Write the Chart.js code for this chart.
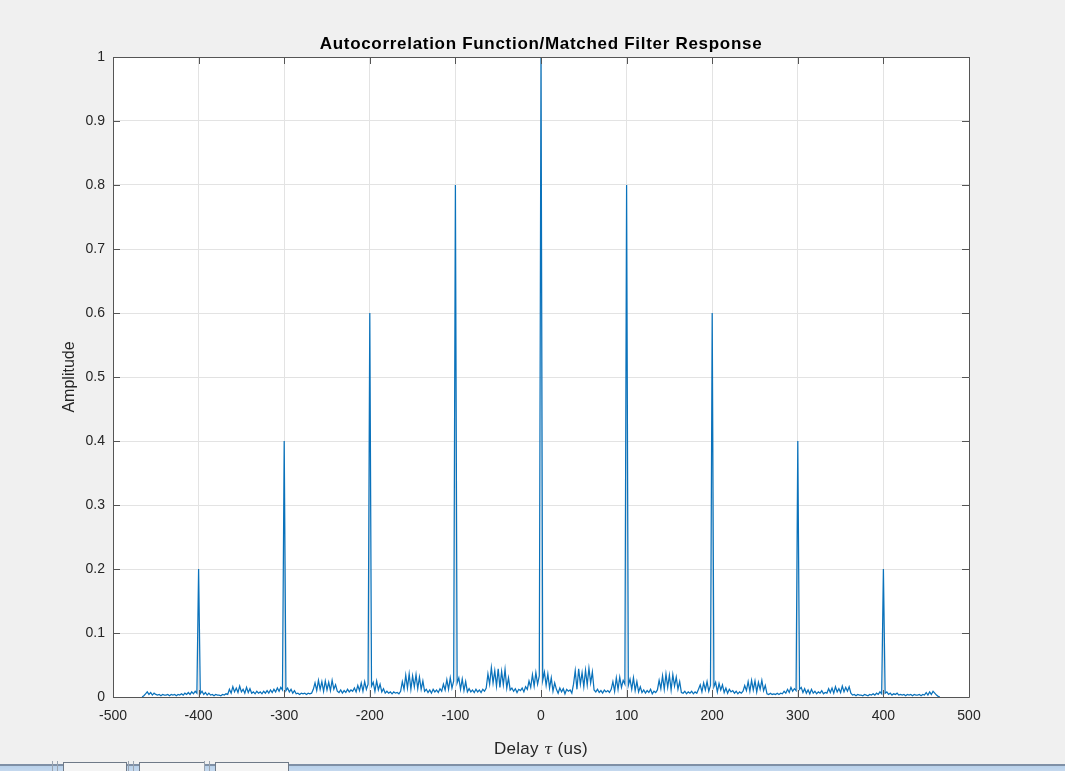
<!DOCTYPE html>
<html>
<head>
<meta charset="utf-8">
<title>Autocorrelation Function/Matched Filter Response</title>
<script src="https://cdn.jsdelivr.net/npm/chart.js@4.4.1/dist/chart.umd.min.js"></script>
<style>
  html, body { margin: 0; padding: 0; background: #f0f0f0; overflow: hidden; }
  #wrap { position: relative; width: 1065px; height: 771px; }
  canvas { position: absolute; left: 0; top: 0; }
  .strip { position: absolute; left: 0; top: 764px; width: 1065px; height: 7px;
           background: linear-gradient(#7f90a6 0px, #7f90a6 2px, #b9d1ea 2px, #c4d8ee 7px); }
  .tab { position: absolute; top: 762px; height: 9px; background: #f4f4f4;
         border: 1px solid #6f7a88; border-bottom: none; box-sizing: border-box; }
  .grip { position: absolute; top: 761px; width: 6px; height: 10px;
          border-left: 1px solid #9aa4b0; border-right: 1px solid #9aa4b0; box-sizing: border-box; }
</style>
</head>
<body>
<div id="wrap">
  <canvas id="chart" width="1065" height="771"></canvas>
  <div class="strip"></div>
  <div class="grip" style="left:52px"></div>
  <div class="tab" style="left:63px;width:64px"></div>
  <div class="grip" style="left:128px"></div>
  <div class="tab" style="left:139px;width:66px"></div>
  <div class="grip" style="left:204px"></div>
  <div class="tab" style="left:215px;width:74px"></div>
</div>
<script>
// Delay sampling grid (us)
const delayStep = 2;
const negStart = -466;   // first sample of the negative-delay half
const posStart = 0;      // first sample of the non-negative half

// Normalised amplitude, tau = -466 ... -2 us
const amplitudeNeg = [
  0, 0.002, 0.005, 0.008, 0.004, 0.007, 0.003, 0.006, 0.004, 0.003,          // -466
  0.004, 0.002, 0.004, 0.003, 0.003, 0.004, 0.002, 0.004, 0.003, 0.004,      // -446
  0.002, 0.004, 0.003, 0.005, 0.003, 0.006, 0.004, 0.007, 0.004, 0.008,      // -426
  0.005, 0.009, 0.006, 0.2, 0.005, 0.009, 0.004, 0.007, 0.003, 0.006,        // -406
  0.003, 0.004, 0.002, 0.004, 0.003, 0.003, 0.002, 0.004, 0.003, 0.005,      // -386
  0.004, 0.012, 0.006, 0.016, 0.008, 0.014, 0.007, 0.017, 0.008, 0.012,      // -366
  0.006, 0.015, 0.007, 0.013, 0.006, 0.008, 0.005, 0.009, 0.006, 0.008,      // -346
  0.005, 0.009, 0.006, 0.01, 0.006, 0.011, 0.007, 0.012, 0.008, 0.014,       // -326
  0.009, 0.015, 0.011, 0.4, 0.01, 0.014, 0.008, 0.012, 0.006, 0.01,          // -306
  0.005, 0.006, 0.004, 0.006, 0.005, 0.006, 0.004, 0.006, 0.005, 0.006,      // -286
  0.012, 0.022, 0.01, 0.026, 0.012, 0.024, 0.009, 0.025, 0.011, 0.023,       // -266
  0.01, 0.026, 0.012, 0.019, 0.009, 0.007, 0.011, 0.006, 0.01, 0.007,        // -246
  0.012, 0.008, 0.011, 0.009, 0.014, 0.008, 0.018, 0.01, 0.022, 0.009,       // -226
  0.024, 0.012, 0.02, 0.6, 0.017, 0.023, 0.009, 0.025, 0.011, 0.02,          // -206
  0.008, 0.013, 0.006, 0.009, 0.006, 0.008, 0.005, 0.008, 0.006, 0.007,      // -186
  0.005, 0.009, 0.024, 0.012, 0.034, 0.014, 0.036, 0.012, 0.033, 0.016,      // -166
  0.035, 0.013, 0.031, 0.012, 0.025, 0.009, 0.012, 0.007, 0.011, 0.006,      // -146
  0.012, 0.008, 0.011, 0.007, 0.013, 0.009, 0.02, 0.011, 0.027, 0.012,       // -126
  0.03, 0.014, 0.025, 0.8, 0.022, 0.03, 0.012, 0.028, 0.01, 0.024,           // -106
  0.008, 0.013, 0.008, 0.011, 0.007, 0.012, 0.008, 0.011, 0.007, 0.012,      // -86
  0.009, 0.014, 0.036, 0.02, 0.046, 0.022, 0.041, 0.017, 0.044, 0.015,       // -66
  0.04, 0.019, 0.043, 0.014, 0.03, 0.011, 0.014, 0.009, 0.013, 0.007,        // -46
  0.012, 0.01, 0.014, 0.008, 0.016, 0.012, 0.025, 0.015, 0.035, 0.017,       // -26
  0.038, 0.02, 0.033                                                          // -6
];

// Normalised amplitude, tau = 0 ... 466 us
const amplitudePos = [
  1.0, 0.026, 0.039, 0.018, 0.036, 0.014, 0.03, 0.009, 0.022, 0.012,         // 0
  0.006, 0.014, 0.008, 0.013, 0.005, 0.012, 0.009, 0.011, 0.006, 0.02,       // 20
  0.041, 0.012, 0.044, 0.02, 0.038, 0.016, 0.042, 0.019, 0.045, 0.022,       // 40
  0.039, 0.011, 0.008, 0.012, 0.007, 0.01, 0.006, 0.011, 0.008, 0.01,        // 60
  0.007, 0.012, 0.024, 0.009, 0.03, 0.012, 0.031, 0.015, 0.026, 0.02,        // 80
  0.8, 0.018, 0.028, 0.012, 0.03, 0.01, 0.024, 0.008, 0.016, 0.007,          // 100
  0.011, 0.006, 0.01, 0.007, 0.012, 0.005, 0.009, 0.007, 0.011, 0.026,       // 120
  0.013, 0.033, 0.012, 0.036, 0.015, 0.034, 0.011, 0.035, 0.017, 0.031,      // 140
  0.012, 0.024, 0.007, 0.006, 0.009, 0.005, 0.008, 0.006, 0.009, 0.005,      // 160
  0.008, 0.006, 0.012, 0.019, 0.008, 0.022, 0.011, 0.024, 0.009, 0.018,      // 180
  0.6, 0.016, 0.023, 0.008, 0.021, 0.011, 0.019, 0.007, 0.014, 0.006,        // 200
  0.012, 0.008, 0.01, 0.006, 0.009, 0.005, 0.008, 0.006, 0.009, 0.018,       // 220
  0.01, 0.024, 0.009, 0.026, 0.011, 0.025, 0.008, 0.023, 0.012, 0.026,       // 240
  0.01, 0.018, 0.005, 0.004, 0.006, 0.004, 0.005, 0.004, 0.006, 0.004,       // 260
  0.006, 0.005, 0.009, 0.006, 0.012, 0.007, 0.015, 0.009, 0.013, 0.01,       // 280
  0.4, 0.012, 0.015, 0.007, 0.013, 0.006, 0.011, 0.005, 0.012, 0.006,        // 300
  0.009, 0.005, 0.008, 0.006, 0.01, 0.005, 0.007, 0.006, 0.013, 0.007,       // 320
  0.014, 0.006, 0.016, 0.008, 0.013, 0.007, 0.017, 0.008, 0.015, 0.009,      // 340
  0.016, 0.006, 0.003, 0.004, 0.002, 0.004, 0.003, 0.003, 0.002, 0.004,      // 360
  0.003, 0.002, 0.004, 0.003, 0.005, 0.003, 0.006, 0.004, 0.008, 0.005,      // 380
  0.2, 0.006, 0.008, 0.004, 0.006, 0.003, 0.005, 0.004, 0.006, 0.003,        // 400
  0.004, 0.003, 0.004, 0.002, 0.004, 0.003, 0.004, 0.002, 0.004, 0.003,      // 420
  0.003, 0.004, 0.002, 0.004, 0.003, 0.007, 0.003, 0.008, 0.004, 0.009,      // 440
  0.006, 0.003, 0.001, 0                                                      // 460
];

// Axis ticks
const delayTicks = [-500, -400, -300, -200, -100, 0, 100, 200, 300, 400, 500];
const amplitudeTicks = [0, 0.1, 0.2, 0.3, 0.4, 0.5, 0.6, 0.7, 0.8, 0.9, 1];

// Text
const chartTitle = 'Autocorrelation Function/Matched Filter Response';
const yTitle = 'Amplitude';

const points = amplitudeNeg.map((a, i) => ({ x: negStart + i * delayStep, y: a }))
  .concat(amplitudePos.map((a, i) => ({ x: posStart + i * delayStep, y: a })));

const FONT = '"Liberation Sans", Arial, Helvetica, sans-serif';
const AXIS_COLOR = '#555555';
const TEXT_COLOR = '#262626';

// Figure background, white axes face, box with inward ticks, titles
const matlabAxes = {
  id: 'matlabAxes',
  beforeDraw(chart) {
    const { ctx, chartArea: a } = chart;
    ctx.save();
    ctx.fillStyle = '#f0f0f0';
    ctx.fillRect(0, 0, chart.width, chart.height);
    ctx.fillStyle = '#ffffff';
    ctx.fillRect(a.left, a.top, a.right - a.left, a.bottom - a.top);
    ctx.restore();
  },
  afterDraw(chart) {
    const { ctx, chartArea: a, scales } = chart;
    const tl = 7;
    ctx.save();
    ctx.strokeStyle = AXIS_COLOR;
    ctx.lineWidth = 1;
    ctx.beginPath();
    ctx.rect(Math.round(a.left) + 0.5, Math.round(a.top) + 0.5,
             Math.round(a.right - a.left), Math.round(a.bottom - a.top));
    ctx.stroke();
    ctx.beginPath();
    delayTicks.forEach(v => {
      const x = Math.round(scales.x.getPixelForValue(v)) + 0.5;
      ctx.moveTo(x, a.bottom); ctx.lineTo(x, a.bottom - tl);
      ctx.moveTo(x, a.top); ctx.lineTo(x, a.top + tl);
    });
    amplitudeTicks.forEach(v => {
      const y = Math.round(scales.y.getPixelForValue(v)) + 0.5;
      ctx.moveTo(a.left, y); ctx.lineTo(a.left + tl, y);
      ctx.moveTo(a.right, y); ctx.lineTo(a.right - tl, y);
    });
    ctx.stroke();

    // title
    ctx.fillStyle = '#000000';
    ctx.font = 'bold 17px ' + FONT;
    ctx.textAlign = 'center';
    ctx.textBaseline = 'alphabetic';
    if ('letterSpacing' in ctx) ctx.letterSpacing = '0.7px';
    ctx.fillText(chartTitle, (a.left + a.right) / 2, 49);
    if ('letterSpacing' in ctx) ctx.letterSpacing = '0px';

    // y-axis title
    ctx.fillStyle = TEXT_COLOR;
    ctx.font = '16px ' + FONT;
    ctx.save();
    ctx.translate(74, (a.top + a.bottom) / 2);
    ctx.rotate(-Math.PI / 2);
    ctx.textAlign = 'center';
    ctx.fillText(yTitle, 0, 0);
    ctx.restore();

    // x-axis title with italic tau
    const parts = [
      { t: 'Delay ', f: '17px ' + FONT },
      { t: '\u03c4', f: 'italic 15px "DejaVu Serif", serif' },
      { t: ' (us)', f: '17px ' + FONT }
    ];
    if ('letterSpacing' in ctx) ctx.letterSpacing = '0.3px';
    let total = 0;
    parts.forEach(p => { ctx.font = p.f; p.w = ctx.measureText(p.t).width; total += p.w; });
    let x = (a.left + a.right) / 2 - total / 2;
    ctx.textAlign = 'left';
    parts.forEach(p => { ctx.font = p.f; ctx.fillText(p.t, x, 754); x += p.w; });
    ctx.restore();
  }
};

new Chart(document.getElementById('chart'), {
  type: 'line',
  data: {
    datasets: [{
      data: points,
      borderColor: '#0a72bb',
      borderWidth: 1.25,
      pointRadius: 0,
      tension: 0,
      fill: false
    }]
  },
  options: {
    responsive: false,
    animation: false,
    parsing: false,
    layout: { padding: { left: 0, top: 57, right: 96, bottom: 0 } },
    plugins: { legend: { display: false }, tooltip: { enabled: false }, title: { display: false } },
    scales: {
      x: {
        type: 'linear',
        min: -500, max: 500,
        afterBuildTicks: s => { s.ticks = delayTicks.map(v => ({ value: v })); },
        afterFit: s => { s.height = 74; },
        grid: { color: '#e3e3e3', drawTicks: false },
        border: { display: false },
        ticks: { padding: 11, color: TEXT_COLOR, font: { family: FONT, size: 14 },
                 maxRotation: 0, autoSkip: false, callback: v => String(v) }
      },
      y: {
        type: 'linear',
        min: 0, max: 1,
        afterBuildTicks: s => { s.ticks = amplitudeTicks.map(v => ({ value: v })); },
        afterFit: s => { s.width = 113; },
        grid: { color: '#e3e3e3', drawTicks: false },
        border: { display: false },
        ticks: { padding: 8, color: TEXT_COLOR, font: { family: FONT, size: 14 },
                 autoSkip: false, callback: v => String(+Number(v).toFixed(1)) }
      }
    }
  },
  plugins: [matlabAxes]
});
</script>
</body>
</html>
